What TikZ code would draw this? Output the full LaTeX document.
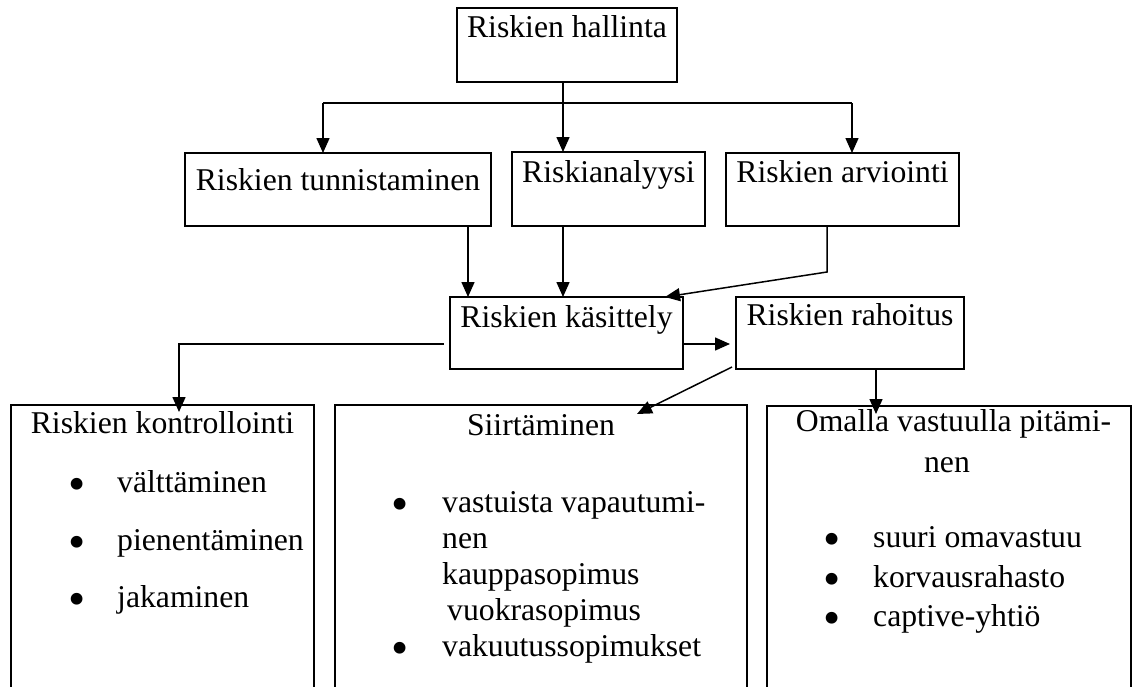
\documentclass[tikz,border=0pt]{standalone}
\usepackage{fontspec}
\setmainfont{Liberation Serif}
\usetikzlibrary{arrows.meta}
\newcommand{\bigbul}{\raisebox{-8pt}{\scalebox{1.55}{•}}}
\newcommand{\bitem}[2]{\makebox[#1][l]{\bigbul}#2}
\begin{document}
\begin{tikzpicture}[x=1pt,y=-1pt,
  box/.style={draw, line width=2pt, inner sep=0pt, outer sep=0pt},
  conn/.style={line width=1.5pt},
  arr/.style={conn, -{Triangle[length=15pt,width=13pt]}},
  txt/.style={font=\fontsize{31.7}{36}\selectfont, inner sep=0pt, anchor=base},
  itm/.style={txt, anchor=base west}]
\useasboundingbox (0,0) rectangle (1133,686);
\clip (0,0) rectangle (1133,686);
% boxes
\node[box, minimum width=220pt, minimum height=74pt] (hal) at (567,45) {};
\node[box, minimum width=306pt, minimum height=73pt] (tun) at (338,189.5) {};
\node[box, minimum width=193pt, minimum height=74pt] (ana) at (608.5,189) {};
\node[box, minimum width=233pt, minimum height=73pt] (arv) at (842.5,189.5) {};
\node[box, minimum width=233pt, minimum height=72pt] (kas) at (566.5,333) {};
\node[box, minimum width=228pt, minimum height=72pt] (rah) at (850,333) {};
\node[box, minimum width=303pt, minimum height=355pt] (kon) at (162.5,582.5) {};
\node[box, minimum width=412pt, minimum height=355pt] (sii) at (541,582.5) {};
\node[box, minimum width=364pt, minimum height=355pt] (oma) at (949,583.5) {};
% texts
\node[txt] (thal) at (567,37) {Riskien hallinta};
\node[txt] (ttun) at (338,190) {Riskien tunnistaminen};
\node[txt] (tana) at (608.5,182) {Riskianalyysi};
\node[txt] (tarv) at (842.5,182) {Riskien arviointi};
\node[txt] (tkas) at (566.5,327) {Riskien käsittely};
\node[txt] (trah) at (850,325) {Riskien rahoitus};
\node[txt] (tkon) at (162.5,433) {Riskien kontrollointi};
\node[itm] (ki1) at (68.4,492) {\bitem{48.6pt}{välttäminen}};
\node[itm] (ki2) at (68.4,550) {\bitem{48.6pt}{pienentäminen}};
\node[itm] (ki3) at (68.4,607) {\bitem{48.6pt}{jakaminen}};
\node[txt] (tsii) at (541,435) {Siirtäminen};
\node[itm] (si1) at (391.4,512) {\bitem{50.6pt}{vastuista vapautumi-}};
\node[itm] (si2) at (442,548) {nen};
\node[itm] (si3) at (442,584) {kauppasopimus};
\node[itm] (si4) at (447,620) {vuokrasopimus};
\node[itm] (si5) at (391.4,656) {\bitem{50.6pt}{vakuutussopimukset}};
\node[txt] (toma1) at (953.5,431) {Omalla vastuulla pitämi-};
\node[txt] (toma2) at (947,472) {nen};
\node[itm] (oi1) at (823.4,547) {\bitem{49.6pt}{suuri omavastuu}};
\node[itm] (oi2) at (823.4,587) {\bitem{49.6pt}{korvausrahasto}};
\node[itm] (oi3) at (823.4,626) {\bitem{49.6pt}{captive-yhtiö}};
% connectors
\coordinate (jm) at (563,103);
\coordinate (jl) at (323,103);
\coordinate (jr) at (852,103);
\draw[conn] (hal.south -| jm) -- (jm);
\draw[conn] (jl) -- (jr);
\draw[arr] (jl) -- (jl |- tun.north);
\draw[arr] (jm) -- (jm |- ana.north);
\draw[arr] (jr) -- (jr |- arv.north);
\coordinate (c1) at (468,0);
\draw[arr] (c1 |- tun.south) -- (c1 |- kas.north);
\draw[arr] (jm |- ana.south) -- (jm |- kas.north);
\coordinate (c2) at (827,272);
\coordinate (kne) at ([xshift=-18pt]kas.north east);
\draw[arr] (c2 |- arv.south) -- (c2) -- (kne);
\coordinate (ky) at (0,344);
\coordinate (rin) at ([xshift=-6pt]rah.west);
\draw[arr] (kas.east |- ky) -- (rin |- ky);
\coordinate (kin) at ([xshift=-6pt]kas.west);
\coordinate (kx) at (179,0);
\draw[arr, shorten >=-7pt] (kin |- ky) -| (kx |- kon.north);
\coordinate (rs) at ([xshift=-4pt,yshift=2pt]rah.south west);
\coordinate (st) at ([xshift=96pt,yshift=-9pt]sii.north);
\draw[arr] (rs) -- (st);
\coordinate (ox) at (876,0);
\draw[arr, shorten >=-8pt] (ox |- rah.south) -- (ox |- oma.north);
\end{tikzpicture}
\end{document}
